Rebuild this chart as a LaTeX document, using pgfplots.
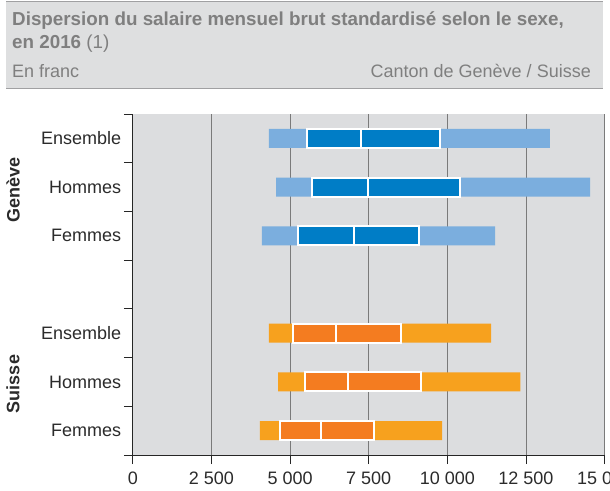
\documentclass[border=0pt]{standalone}
\usepackage{fontspec}
\setmainfont{Liberation Sans}
\usepackage{pgfplots}
\usepackage{pgfplotstable}
\pgfplotsset{compat=1.18}
\definecolor{bgc}{HTML}{DCDDDF}
\definecolor{hdr}{HTML}{DEDFE0}
\definecolor{hline}{HTML}{A0A0A2}
\definecolor{ttl}{HTML}{7F7F7F}
\definecolor{lbl}{HTML}{2B2B2B}
\definecolor{gelight}{HTML}{7BAEDE}
\definecolor{gedark}{HTML}{007DC6}
\definecolor{chlight}{HTML}{F7A11E}
\definecolor{chdark}{HTML}{F47C20}
\definecolor{gridc}{HTML}{7A7A7A}

\pgfplotstableread{
y start q1 med q3 end
7 4330 5535 7256 9760 13261
6 4553 5685 7487 10400 14539
5 4105 5249 7039 9109 11522
}\geneve
\pgfplotstableread{
y start q1 med q3 end
3 4330 5109 6473 8533 11392
2 4620 5462 6826 9172 12320
1 4041 4683 5974 7681 9834
}\suisse

\pgfplotsset{
  common/.style={
    scale only axis, width=471.8pt, height=341pt,
    xmin=0, xmax=15000, ymin=0.5, ymax=7.5,
    at={(132.8pt,-455pt)}, anchor=south west,
    xbar stacked, bar width=19pt, scaled x ticks=false,
  },
}
\newcommand{\lightbars}[2]{%
  \addplot[draw=none, fill=none] table[x=start, y=y]{#1};
  \addplot[fill=#2, draw=none] table[x expr=\thisrow{end}-\thisrow{start}, y=y]{#1};
}
\newcommand{\darkbars}[2]{%
  \addplot[draw=none, fill=none] table[x=q1, y=y]{#1};
  \addplot[fill=#2, draw=white, line width=2pt] table[x expr=\thisrow{med}-\thisrow{q1}, y=y]{#1};
  \addplot[fill=#2, draw=white, line width=2pt] table[x expr=\thisrow{q3}-\thisrow{med}, y=y]{#1};
}

\begin{document}
\begin{tikzpicture}[x=1pt, y=1pt]
\useasboundingbox (0,0) rectangle (610,-490);
% header
\fill[hdr] (6,-1) rectangle (603,-88);
\draw[hline, line width=1pt] (6,-1) -- (603,-1);
\draw[hline, line width=1pt] (6,-88) -- (603,-88);
\node[anchor=base west, inner sep=0pt, text=ttl, font=\bfseries\fontsize{18.8}{22}\selectfont] at (12,-25)
  {Dispersion du salaire mensuel brut standardisé selon le sexe,};
\node[anchor=base west, inner sep=0pt, text=ttl, font=\fontsize{18.8}{22}\selectfont] at (12,-48)
  {\textbf{en 2016} (1)};
\node[anchor=base west, inner sep=0pt, text=ttl, font=\fontsize{18}{22}\selectfont] at (12,-77) {En franc};
\node[anchor=base east, inner sep=0pt, text=ttl, font=\fontsize{18}{22}\selectfont] at (591,-77) {Canton de Genève / Suisse};

\begin{axis}[common,
  axis background/.style={fill=bgc},
  axis x line*=bottom, axis y line*=left,
  axis line style={black!85, line width=0.9pt},
  xtick={0,2500,5000,7500,10000,12500,15000},
  xticklabels={0,2 500,5 000,7 500,10 000,12 500,15 000},
  xmajorgrids, grid style={gridc, line width=0.9pt},
  ytick={0.5,1.5,2.5,3.5,4.5,5.5,6.5,7.5}, yticklabels={},
  tick align=outside, major tick length=9pt,
  tick style={black!85, line width=0.9pt},
  extra y ticks={1,2,3,5,6,7},
  extra y tick labels={Femmes,Hommes,Ensemble,Femmes,Hommes,Ensemble},
  extra y tick style={major tick length=0pt,
    yticklabel style={anchor=east, inner sep=0pt, xshift=-11.5pt}},
  tick label style={font=\fontsize{18}{20}\selectfont, text=lbl},
  xticklabel style={yshift=-4pt},
]
\lightbars{\geneve}{gelight}
\end{axis}
\begin{axis}[common, hide axis]
\darkbars{\geneve}{gedark}
\end{axis}
\begin{axis}[common, hide axis]
\lightbars{\suisse}{chlight}
\end{axis}
\begin{axis}[common, hide axis]
\darkbars{\suisse}{chdark}
\end{axis}

\node[rotate=90, text=lbl, font=\bfseries\fontsize{18}{20}\selectfont] at (13,-190) {Genève};
\node[rotate=90, text=lbl, font=\bfseries\fontsize{18}{20}\selectfont] at (13,-384) {Suisse};
\end{tikzpicture}
\end{document}
